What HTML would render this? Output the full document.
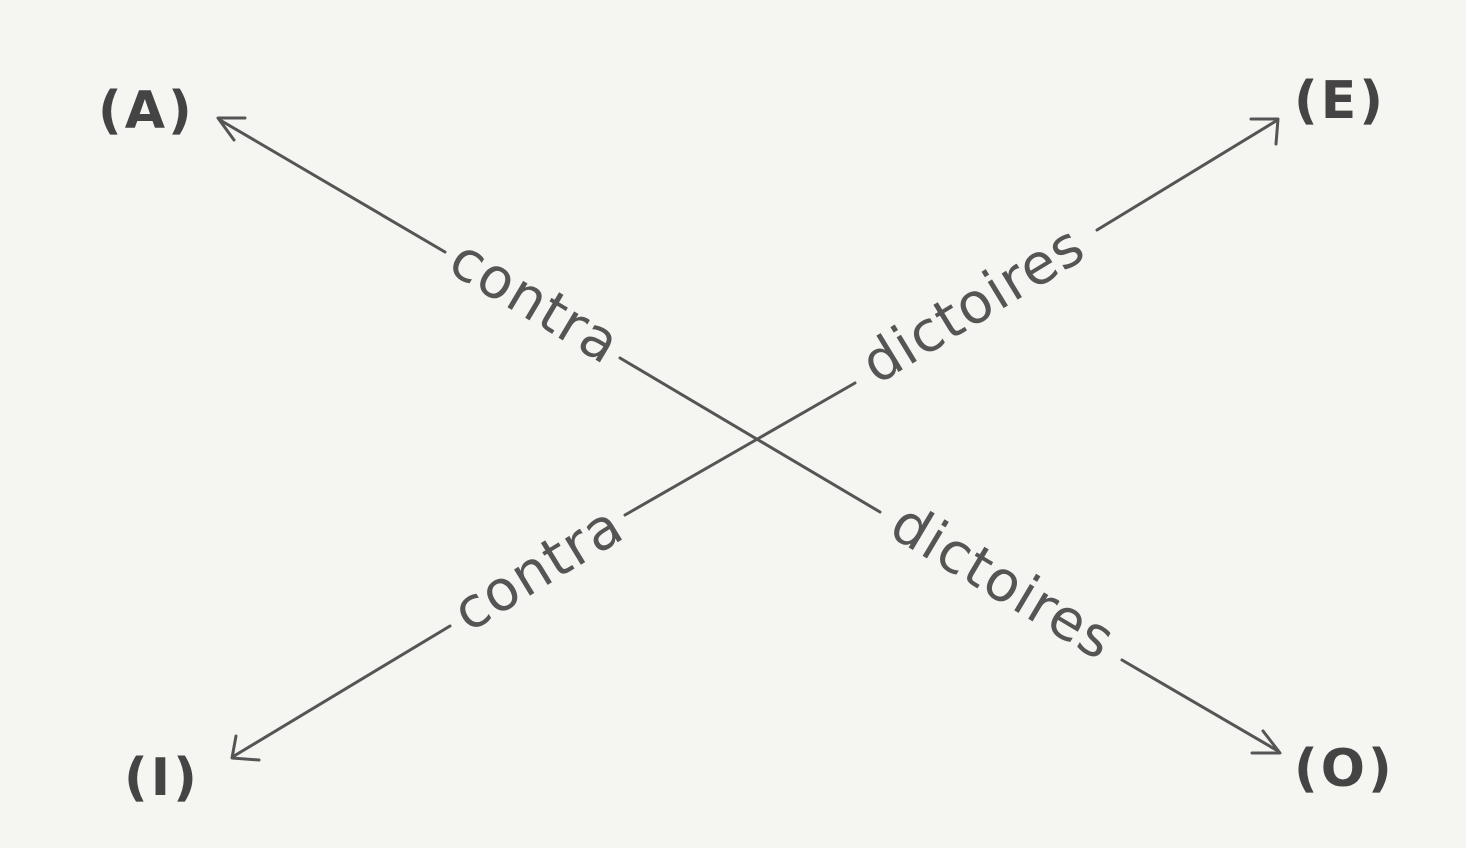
<!DOCTYPE html>
<html><head><meta charset="utf-8"><style>
html,body{margin:0;padding:0;background:#f5f5f1;}
svg{display:block}
</style></head><body>
<svg width="1466" height="848" viewBox="0 0 1466 848" xmlns="http://www.w3.org/2000/svg">
<rect width="1466" height="848" fill="#f5f5f1"/>
<g stroke="#555" stroke-width="3" fill="none" stroke-linecap="round" stroke-linejoin="round">
<line x1="220" y1="120" x2="445" y2="252"/>
<line x1="620" y1="358" x2="880" y2="512"/>
<line x1="1122" y1="660" x2="1278" y2="751"/>
<line x1="234" y1="756" x2="450" y2="626"/>
<line x1="625" y1="515" x2="855" y2="383"/>
<line x1="1097" y1="230" x2="1276" y2="121"/>
<polyline points="234,140 218,118 245,118"/>
<polyline points="1263,731 1280,753 1252,753"/>
<polyline points="236,736 232,758 259,760"/>
<polyline points="1276,144 1278,119 1251,119"/>
</g>
<g font-family="'DejaVu Sans','Liberation Sans',sans-serif" font-size="56" fill="#555" text-anchor="middle" letter-spacing="1">
<text transform="translate(533,305) rotate(30.8)" dy="15">contra</text>
<text transform="translate(1001,585) rotate(30.8)" dy="15">dictoires</text>
<text transform="translate(540,572) rotate(-31.3)" dy="15">contra</text>
<text transform="translate(975,308) rotate(-31.3)" dy="15">dictoires</text>
</g>
<g font-family="'DejaVu Sans','Liberation Sans',sans-serif" font-size="52" font-weight="bold" fill="#444" letter-spacing="3">
<text x="98" y="128">(A)</text>
<text x="1294" y="118">(E)</text>
<text x="124" y="795">(I)</text>
<text x="1294" y="786">(O)</text>
</g>
</svg>
</body></html>
